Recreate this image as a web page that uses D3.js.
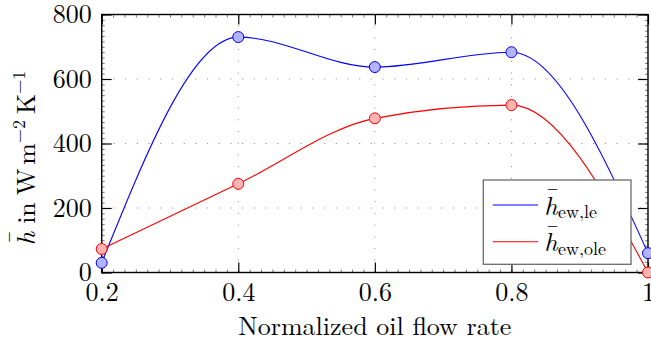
<!DOCTYPE html>
<html>
<head>
<meta charset="utf-8">
<script src="https://cdn.jsdelivr.net/npm/d3@7"></script>
<style>
  body { margin: 0; background: #fff; }
</style>
</head>
<body>
<div class="container"></div>
<script>
const WIDTH = 651;
const HEIGHT = 344;

// data
const flowRates = [0.2, 0.4, 0.6, 0.8, 1.0];
const hEwLe = [30, 730, 637, 683, 60];
const hEwOle = [73, 275, 478, 519, 0];
const xTicks = [0.2, 0.4, 0.6, 0.8, 1.0];
const yTicks = [0, 200, 400, 600, 800];

const LEFT = 101.7, RIGHT = 648, TOP = 14.5, BOTTOM = 272.5;
const TICK = 10, MINOR = 3;
const FONT = 26;
const SERIF = '"Latin Modern Roman", "Liberation Serif", serif';

var xScale = d3.scaleLinear().domain([0.2, 1.0]).range([LEFT, RIGHT]);
var yScale = d3.scaleLinear().domain([0, 800]).range([BOTTOM, TOP]);

var translate = function(x, y){
    return "translate(" + x + "," + y + ")";
};

// italic h with a bar over it; returns the shift the next tspan needs
// to get back onto the baseline
var hBar = function(t, size){
    t.append('tspan').attr('font-style', 'italic').text('h');
    t.append('tspan')
        .attr('dx', -0.45 * size)
        .attr('dy', -0.37 * size)
        .text('\u00af');
    return {dx: -0.05 * size, dy: 0.37 * size};
};

var svg = d3.select('.container').append('svg')
    .attr('width', WIDTH)
    .attr('height', HEIGHT)
    .attr('font-family', SERIF);

// dotted grid
var grid = svg.append('g')
    .attr('stroke', '#999')
    .attr('stroke-width', 1)
    .attr('stroke-dasharray', '1.2,10.5');
grid.selectAll('line.vx')
    .data(xTicks.slice(1, -1))
    .enter().append('line')
    .attr('x1', d => xScale(d)).attr('x2', d => xScale(d))
    .attr('y1', BOTTOM).attr('y2', TOP);
grid.selectAll('line.hy')
    .data(yTicks.slice(1, -1))
    .enter().append('line')
    .attr('x1', LEFT).attr('x2', RIGHT)
    .attr('y1', d => yScale(d)).attr('y2', d => yScale(d));

// axes with inward ticks on all four sides
var minorX = d3.range(0, 49).map(i => 0.2 + i * 0.8 / 48);
var minorY = d3.range(0, 49).map(i => i * 800 / 48);
var fmtX = d => d === 1 ? '1' : d.toFixed(1);

var axB = d3.axisBottom(xScale).tickValues(xTicks).tickSize(-TICK).tickPadding(10).tickFormat(fmtX);
var axT = d3.axisTop(xScale).tickValues(xTicks).tickSize(-TICK).tickFormat('');
var axL = d3.axisLeft(yScale).tickValues(yTicks).tickSize(-TICK).tickPadding(10);
var axR = d3.axisRight(yScale).tickValues(yTicks).tickSize(-TICK).tickFormat('');

var mB = d3.axisBottom(xScale).tickValues(minorX).tickSize(-MINOR).tickFormat('');
var mT = d3.axisTop(xScale).tickValues(minorX).tickSize(-MINOR).tickFormat('');
var mL = d3.axisLeft(yScale).tickValues(minorY).tickSize(-MINOR).tickFormat('');
var mR = d3.axisRight(yScale).tickValues(minorY).tickSize(-MINOR).tickFormat('');

[[mB, 0, BOTTOM], [mT, 0, TOP], [mL, LEFT, 0], [mR, RIGHT, 0]].forEach(function(a){
    var g = svg.append('g').attr('transform', translate(a[1], a[2])).call(a[0]);
    g.select('.domain').remove();
    g.selectAll('line').attr('stroke', '#555').attr('stroke-width', 0.8);
});

[[axB, 0, BOTTOM], [axT, 0, TOP], [axL, LEFT, 0], [axR, RIGHT, 0]].forEach(function(a){
    var g = svg.append('g').attr('transform', translate(a[1], a[2])).call(a[0]);
    g.attr('font-family', SERIF).attr('font-size', FONT);
    g.select('.domain').remove();
    g.selectAll('line').attr('stroke', '#000').attr('stroke-width', 1.2);
    g.selectAll('text').attr('fill', '#000');
});

// frame
svg.append('rect')
    .attr('x', LEFT).attr('y', TOP)
    .attr('width', RIGHT - LEFT).attr('height', BOTTOM - TOP)
    .attr('fill', 'none')
    .attr('stroke', '#000')
    .attr('stroke-width', 1.4);

// curves
var series = [
    {values: hEwLe, stroke: '#0000ff', fill: '#b3b3ff', label: 'ew,le'},
    {values: hEwOle, stroke: '#ff0000', fill: '#ffb3b3', label: 'ew,ole'}
];

var line = d3.line()
    .x(d => xScale(d[0]))
    .y(d => yScale(d[1]))
    .curve(d3.curveMonotoneX);

series.forEach(function(s){
    var pts = flowRates.map((x, i) => [x, s.values[i]]);
    svg.append('path')
        .datum(pts)
        .attr('d', line)
        .attr('fill', 'none')
        .attr('stroke', s.stroke)
        .attr('stroke-width', 1.1);
});

series.forEach(function(s){
    var pts = flowRates.map((x, i) => [x, s.values[i]]);
    svg.append('g').selectAll('circle')
        .data(pts)
        .enter().append('circle')
        .attr('cx', d => xScale(d[0]))
        .attr('cy', d => yScale(d[1]))
        .attr('r', 5.5)
        .attr('fill', s.fill)
        .attr('stroke', s.stroke)
        .attr('stroke-width', 1);
});

// legend
var legend = svg.append('g').attr('transform', translate(483.3, 180));
legend.append('rect')
    .attr('width', 147.7).attr('height', 84.3)
    .attr('fill', '#fff')
    .attr('stroke', '#6b6b6b')
    .attr('stroke-width', 1.3);
series.forEach(function(s, i){
    var y = 25 + i * 36.7;
    legend.append('line')
        .attr('x1', 9.5).attr('x2', 54.7)
        .attr('y1', y).attr('y2', y)
        .attr('stroke', s.stroke)
        .attr('stroke-width', 1.1);
    var t = legend.append('text')
        .attr('x', 61).attr('y', y + 9.5)
        .attr('font-size', FONT);
    var back = hBar(t, FONT);
    t.append('tspan')
        .attr('dx', back.dx + 0.5)
        .attr('dy', back.dy + 3.5)
        .attr('font-size', 18)
        .text(s.label);
});

// axis labels
svg.append('text')
    .attr('x', (LEFT + RIGHT) / 2).attr('y', 334.5)
    .attr('text-anchor', 'middle')
    .attr('font-size', FONT)
    .text('Normalized oil flow rate');

var yl = svg.append('text')
    .attr('transform', translate(35, 158) + ' rotate(-90)')
    .attr('text-anchor', 'middle')
    .attr('font-size', FONT);
var back = hBar(yl, FONT);
yl.append('tspan').attr('dx', back.dx + 8).attr('dy', back.dy).text('in');
yl.append('tspan').attr('dx', 9).text('W');
yl.append('tspan').attr('dx', 6).text('m');
yl.append('tspan').attr('dy', -10).attr('font-size', 18).text('\u22122');
yl.append('tspan').attr('dx', 6).attr('dy', 10).text('K');
yl.append('tspan').attr('dy', -10).attr('font-size', 18).text('\u22121');
</script>
</body>
</html>
